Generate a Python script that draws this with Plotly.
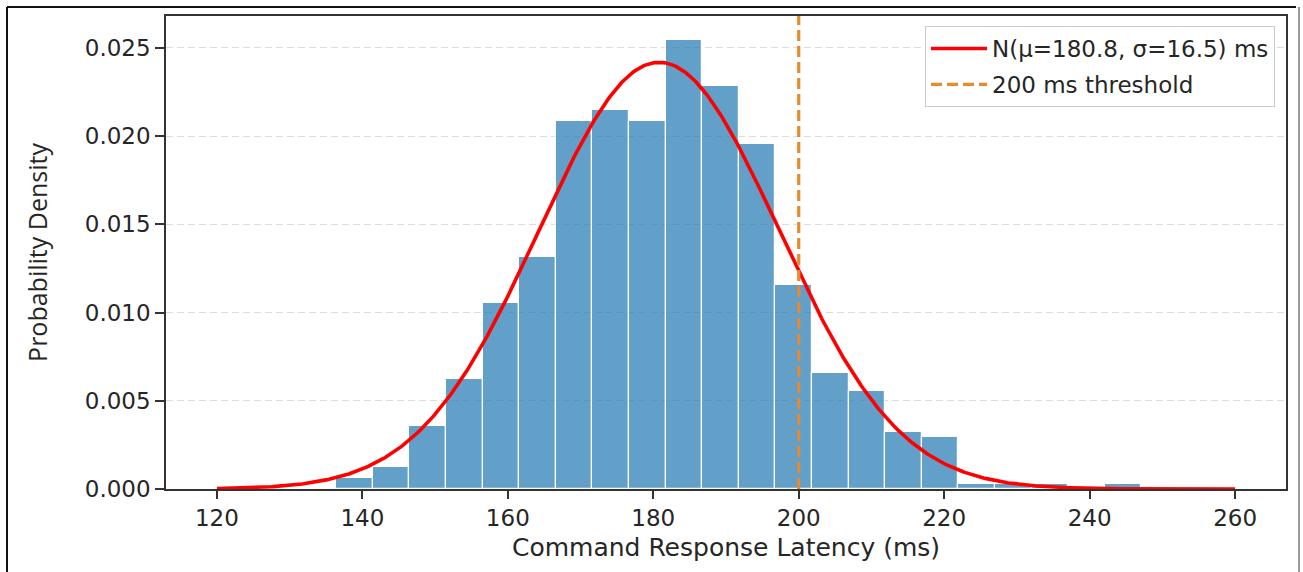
import numpy as np
import plotly.graph_objects as go

# ---------------- data ----------------
bin_edges = [136.40, 141.43, 146.46, 151.50, 156.53, 161.56, 166.59, 171.62,
             176.66, 181.69, 186.72, 191.75, 196.78, 201.82, 206.85, 211.88,
             216.91, 221.94, 226.98, 232.01, 237.04, 242.07, 247.10]
densities = [0.00060, 0.00126, 0.00358, 0.00622, 0.01054, 0.01315, 0.02086,
             0.02148, 0.02084, 0.02545, 0.02282, 0.01952, 0.01156, 0.00656,
             0.00556, 0.00324, 0.00294, 0.00030, 0.00030, 0.00030, 0.00000,
             0.00030]

mu = 180.8
sigma = 16.5
curve_x_start = 120
curve_x_end = 260
threshold_ms = 200

x_tick_values = [120, 140, 160, 180, 200, 220, 240, 260]
y_tick_values = [0.000, 0.005, 0.010, 0.015, 0.020, 0.025]
y_tick_labels = ["0.000", "0.005", "0.010", "0.015", "0.020", "0.025"]

x_range = [113, 267]
y_range = [0, 0.0268]

curve_label = "N(\u03bc=180.8, \u03c3=16.5) ms"
threshold_label = "200 ms threshold"
x_title = "Command Response Latency (ms)"
y_title = "Probability Density"

# ---------------- derived ----------------
centers = [(a + b) / 2 for a, b in zip(bin_edges[:-1], bin_edges[1:])]
widths = [b - a for a, b in zip(bin_edges[:-1], bin_edges[1:])]

xs = np.linspace(curve_x_start, curve_x_end, 600)
pdf = np.exp(-0.5 * ((xs - mu) / sigma) ** 2) / (sigma * np.sqrt(2 * np.pi))

W, H = 1303, 572
ML, MR, MT, MB = 166, 17, 16, 83
PW, PH = W - ML - MR, H - MT - MB


def px_x(p):
    return (p - ML) / PW


def px_y(p):
    return 1 - (p - MT) / PH


TICK_FONT = dict(family="DejaVu Sans", size=23, color="#262626")

fig = go.Figure()

fig.add_trace(go.Bar(
    x=centers, y=densities, width=widths,
    marker=dict(color="rgba(31,119,180,0.70)",
                line=dict(color="white", width=1.2)),
    showlegend=False, hoverinfo="skip",
))

fig.add_trace(go.Scatter(
    x=xs, y=pdf, mode="lines",
    line=dict(color="#ff0000", width=3.6),
    name=curve_label, legendgroup="a",
))

fig.add_shape(
    type="line", xref="x", yref="y domain",
    x0=threshold_ms, x1=threshold_ms, y0=0, y1=1,
    line=dict(color="#E8892E", width=3.2, dash="11px,5px"),
    showlegend=True, name=threshold_label, legendgroup="b",
    layer="above",
)

# outer frame of the picture
fig.add_shape(type="line", xref="paper", yref="paper",
              x0=px_x(7), x1=px_x(7), y0=px_y(7), y1=px_y(590),
              line=dict(color="#111111", width=2))
fig.add_shape(type="line", xref="paper", yref="paper",
              x0=px_x(7), x1=px_x(1296), y0=px_y(7), y1=px_y(7),
              line=dict(color="#111111", width=2))
fig.add_shape(type="line", xref="paper", yref="paper",
              x0=px_x(1299), x1=px_x(1299), y0=px_y(7), y1=px_y(590),
              line=dict(color="#9a9a9a", width=2))

fig.update_layout(
    width=W, height=H,
    margin=dict(l=ML, r=MR, t=MT, b=MB, autoexpand=False),
    paper_bgcolor="white", plot_bgcolor="white",
    bargap=0,
    font=dict(family="DejaVu Sans", color="#262626"),
    legend=dict(
        x=px_x(1275), y=px_y(26), xanchor="right", yanchor="top",
        bgcolor="rgba(255,255,255,0.85)", bordercolor="#cccccc", borderwidth=1,
        font=dict(family="DejaVu Sans", size=23, color="#262626"),
        traceorder="grouped", tracegroupgap=3, itemwidth=56,
    ),
)

fig.update_xaxes(
    range=x_range, tickvals=x_tick_values,
    ticks="outside", ticklen=8, tickwidth=1.5, tickcolor="#333333",
    showline=True, linecolor="#333333", linewidth=1.5, mirror=True,
    showgrid=False, zeroline=False,
    tickfont=TICK_FONT,
    title=dict(text=x_title, font=dict(family="DejaVu Sans", size=25, color="#262626"),
               standoff=8),
)
fig.update_yaxes(
    range=y_range, tickvals=y_tick_values, ticktext=y_tick_labels,
    ticks="outside", ticklen=9, tickwidth=1.5, tickcolor="#333333",
    showline=True, linecolor="#333333", linewidth=1.5, mirror=True,
    showgrid=True, gridcolor="#dcdcdc", gridwidth=1, griddash="7px,4px",
    zeroline=False,
    tickfont=TICK_FONT,
    title=dict(text=y_title, font=dict(family="Open Sans", size=25, color="#262626"),
               standoff=30),
)

fig.write_html("out.html")
